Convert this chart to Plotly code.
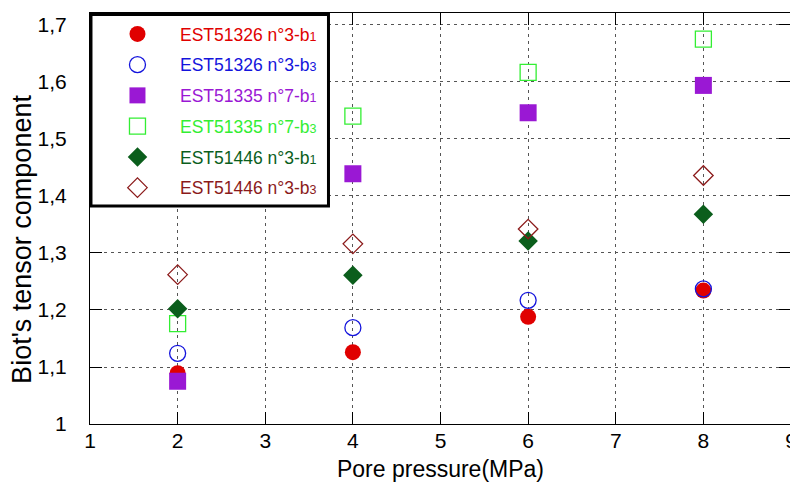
import plotly.graph_objects as go

pressure = [2, 4, 6, 8]

s1_b1 = [1.089, 1.126, 1.188, 1.234]   # EST51326 n°3-b1
s1_b3 = [1.124, 1.169, 1.217, 1.237]   # EST51326 n°3-b3
s2_b1 = [1.075, 1.439, 1.546, 1.594]   # EST51335 n°7-b1
s2_b3 = [1.176, 1.540, 1.617, 1.675]   # EST51335 n°7-b3
s3_b1 = [1.202, 1.261, 1.321, 1.368]   # EST51446 n°3-b1
s3_b3 = [1.262, 1.316, 1.342, 1.436]   # EST51446 n°3-b3

x_ticks = [1, 2, 3, 4, 5, 6, 7, 8, 9]
y_ticks = [1.0, 1.1, 1.2, 1.3, 1.4, 1.5, 1.6, 1.7]
y_tick_labels = ["1", "1,1", "1,2", "1,3", "1,4", "1,5", "1,6", "1,7"]

FONT = "Liberation Sans, Arial, sans-serif"

def lab(base, sub, color):
    return ("<span style='color:%s'>" % color + base +
            "<span style='font-size:12.5px'>" + sub + "</span></span>")

series = [
    (s1_b1, "EST51326 n°3-b", "1", "#e00000", "circle", 16, 0),
    (s1_b3, "EST51326 n°3-b", "3", "#1414dc", "circle-open", 16, 1.3),
    (s2_b1, "EST51335 n°7-b", "1", "#9a18d4", "square", 17, 0),
    (s2_b3, "EST51335 n°7-b", "3", "#33ee33", "square-open", 16, 1.3),
    (s3_b1, "EST51446 n°3-b", "1", "#0b5e1c", "diamond", 15, 0),
    (s3_b3, "EST51446 n°3-b", "3", "#8b1a1a", "diamond-open", 15, 1.3),
]

fig = go.Figure()
for i, (vals, base, sub, color, sym, size, lw) in enumerate(series):
    marker = dict(color=color, symbol=sym, size=size,
                  line=dict(color=color, width=lw))
    fig.add_trace(go.Scatter(
        x=pressure, y=vals, mode="markers", name=lab(base, sub, color),
        marker=marker, legendgroup="g%d" % i,
    ))

axis_common = dict(
    showline=True, linecolor="black", linewidth=1.2, mirror="ticks",
    ticks="inside", ticklen=12, tickcolor="black", tickwidth=1,
    showgrid=True, gridcolor="#555555", griddash="3px,4px", gridwidth=1,
    zeroline=False, automargin=False,
    tickfont=dict(family=FONT, size=21, color="black"),
)

fig.update_xaxes(
    range=[1, 9], tickvals=x_ticks, ticktext=[str(v) for v in x_ticks],
    ticklabelstandoff=-2,
    title=dict(text="Pore pressure(MPa)", font=dict(family=FONT, size=23, color="black"), standoff=9),
    **axis_common,
)
fig.update_yaxes(
    range=[1, 1.721], tickvals=y_ticks, ticktext=y_tick_labels,
    ticklabelstandoff=18,
    **axis_common,
)

fig.add_annotation(
    text="Biot's tensor component", xref="paper", yref="paper",
    x=-0.097, y=0.448, xanchor="center", yanchor="middle", textangle=-90,
    showarrow=False, font=dict(family=FONT, size=27, color="black"),
)

# legend frame
fig.add_shape(
    type="rect", xref="paper", yref="paper",
    x0=0.0014, x1=0.3402, y0=0.5304, y1=0.9964,
    line=dict(color="black", width=3), fillcolor="white", layer="above",
)

# page is offset by the browser's 8px body margin
fig.update_layout(
    width=790, height=485,
    margin=dict(l=82, r=7, t=5, b=69),
    paper_bgcolor="white", plot_bgcolor="white",
    showlegend=True,
    legend=dict(
        x=0.0071, y=0.9927, xanchor="left", yanchor="top",
        bgcolor="rgba(0,0,0,0)", borderwidth=0,
        font=dict(family=FONT, size=17.5),
        traceorder="grouped", tracegroupgap=5, itemwidth=75,
    ),
)

fig.write_html("out.html")
